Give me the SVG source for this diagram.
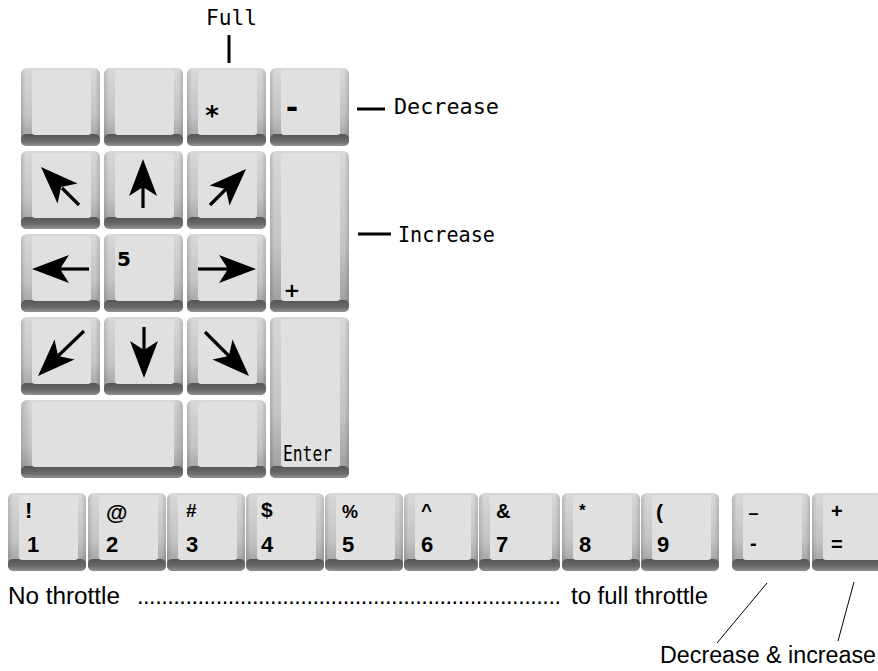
<svg xmlns="http://www.w3.org/2000/svg" width="878" height="671" viewBox="0 0 878 671">
<defs>
<linearGradient id="gSide" x1="0" y1="0" x2="0" y2="1">
<stop offset="0" stop-color="#d8d8d8"/>
<stop offset="0.6" stop-color="#c4c4c4"/>
<stop offset="1" stop-color="#9a9a9a"/>
</linearGradient>
<linearGradient id="gEdge" x1="0" y1="0" x2="1" y2="0">
<stop offset="0" stop-color="#000" stop-opacity="0.14"/>
<stop offset="0.06" stop-color="#000" stop-opacity="0"/>
<stop offset="0.94" stop-color="#000" stop-opacity="0"/>
<stop offset="1" stop-color="#000" stop-opacity="0.14"/>
</linearGradient>
<linearGradient id="gBase" x1="0" y1="0" x2="0" y2="1">
<stop offset="0" stop-color="#555"/>
<stop offset="0.6" stop-color="#6a6a6a"/>
<stop offset="1" stop-color="#929292"/>
</linearGradient>
<style>
.body{fill:url(#gSide)}
.edge{fill:url(#gEdge)}
.base{fill:url(#gBase)}
.face{fill:#e0e0e0}
.arrow{fill:#000}
.shaft{stroke:#000;stroke-width:3.2;fill:none}
.lbl{font-family:"DejaVu Sans Mono",monospace;font-size:21px;fill:#000}
.kb{font-family:"DejaVu Sans",sans-serif;font-weight:bold;fill:#000}
.ks{font-family:"Liberation Sans",Arial,sans-serif;font-weight:bold;fill:#000}
.cap{font-family:"Liberation Sans",Arial,sans-serif;font-size:23.5px;fill:#000}
.ln{stroke:#000;fill:none}
</style>
</defs>

<!-- Numeric keypad -->
<g id="key-numlock"><rect class="body" x="21" y="68" width="79" height="78" rx="6"/><rect class="edge" x="21" y="68" width="79" height="78" rx="6"/><rect class="base" x="21" y="134" width="79" height="12" rx="5"/><rect class="face" x="32" y="70" width="59" height="65" rx="3"/></g>
<g id="key-slash"><rect class="body" x="104" y="68" width="79" height="78" rx="6"/><rect class="edge" x="104" y="68" width="79" height="78" rx="6"/><rect class="base" x="104" y="134" width="79" height="12" rx="5"/><rect class="face" x="115" y="70" width="59" height="65" rx="3"/></g>
<g id="key-star"><rect class="body" x="187" y="68" width="79" height="78" rx="6"/><rect class="edge" x="187" y="68" width="79" height="78" rx="6"/><rect class="base" x="187" y="134" width="79" height="12" rx="5"/><rect class="face" x="198" y="70" width="59" height="65" rx="3"/><text class="kb" x="212" y="125" font-size="26" text-anchor="middle">*</text></g>
<g id="key-minus"><rect class="body" x="270" y="68" width="79" height="78" rx="6"/><rect class="edge" x="270" y="68" width="79" height="78" rx="6"/><rect class="base" x="270" y="134" width="79" height="12" rx="5"/><rect class="face" x="281" y="70" width="59" height="65" rx="3"/><text class="kb" x="292" y="118" font-size="30" text-anchor="middle">-</text></g>

<g id="key-7"><rect class="body" x="21" y="151" width="79" height="78" rx="6"/><rect class="edge" x="21" y="151" width="79" height="78" rx="6"/><rect class="base" x="21" y="217" width="79" height="12" rx="5"/><rect class="face" x="32" y="153" width="59" height="65" rx="3"/>
<path class="arrow" d="M41,167 L77.5,183.5 L61.1,187.1 L57.5,203.5 Z"/><line class="shaft" x1="62" y1="188" x2="79" y2="205"/></g>
<g id="key-8"><rect class="body" x="104" y="151" width="79" height="78" rx="6"/><rect class="edge" x="104" y="151" width="79" height="78" rx="6"/><rect class="base" x="104" y="217" width="79" height="12" rx="5"/><rect class="face" x="115" y="153" width="59" height="65" rx="3"/>
<path class="arrow" d="M143,159 L157,196 L143,187 L129,196 Z"/><line class="shaft" x1="143" y1="186" x2="143" y2="208"/></g>
<g id="key-9"><rect class="body" x="187" y="151" width="79" height="78" rx="6"/><rect class="edge" x="187" y="151" width="79" height="78" rx="6"/><rect class="base" x="187" y="217" width="79" height="12" rx="5"/><rect class="face" x="198" y="153" width="59" height="65" rx="3"/>
<path class="arrow" d="M246,169 L229.5,205.5 L225.9,189.1 L209.5,185.5 Z"/><line class="shaft" x1="227" y1="188" x2="210" y2="205"/></g>
<g id="key-plus"><rect class="body" x="270" y="151" width="79" height="161" rx="6"/><rect class="edge" x="270" y="151" width="79" height="161" rx="6"/><rect class="base" x="270" y="300" width="79" height="12" rx="5"/><rect class="face" x="281" y="153" width="59" height="148" rx="3"/><text class="kb" x="292" y="297" font-size="20" text-anchor="middle">+</text></g>

<g id="key-4"><rect class="body" x="21" y="234" width="79" height="78" rx="6"/><rect class="edge" x="21" y="234" width="79" height="78" rx="6"/><rect class="base" x="21" y="300" width="79" height="12" rx="5"/><rect class="face" x="32" y="236" width="59" height="65" rx="3"/>
<path class="arrow" d="M32,269 L69,255 L60,269 L69,283 Z"/><line class="shaft" x1="59" y1="269" x2="89" y2="269"/></g>
<g id="key-5"><rect class="body" x="104" y="234" width="79" height="78" rx="6"/><rect class="edge" x="104" y="234" width="79" height="78" rx="6"/><rect class="base" x="104" y="300" width="79" height="12" rx="5"/><rect class="face" x="115" y="236" width="59" height="65" rx="3"/><text class="kb" x="117" y="266" font-size="20">5</text></g>
<g id="key-6"><rect class="body" x="187" y="234" width="79" height="78" rx="6"/><rect class="edge" x="187" y="234" width="79" height="78" rx="6"/><rect class="base" x="187" y="300" width="79" height="12" rx="5"/><rect class="face" x="198" y="236" width="59" height="65" rx="3"/>
<path class="arrow" d="M256,269 L219,255 L228,269 L219,283 Z"/><line class="shaft" x1="229" y1="269" x2="198" y2="269"/></g>

<g id="key-1"><rect class="body" x="21" y="317" width="79" height="78" rx="6"/><rect class="edge" x="21" y="317" width="79" height="78" rx="6"/><rect class="base" x="21" y="383" width="79" height="12" rx="5"/><rect class="face" x="32" y="319" width="59" height="65" rx="3"/>
<path class="arrow" d="M38,376 L54.5,339.5 L58.1,355.9 L74.5,359.5 Z"/><line class="shaft" x1="57" y1="357" x2="84" y2="331"/></g>
<g id="key-2"><rect class="body" x="104" y="317" width="79" height="78" rx="6"/><rect class="edge" x="104" y="317" width="79" height="78" rx="6"/><rect class="base" x="104" y="383" width="79" height="12" rx="5"/><rect class="face" x="115" y="319" width="59" height="65" rx="3"/>
<path class="arrow" d="M144,378 L130,341 L144,350 L158,341 Z"/><line class="shaft" x1="144" y1="351" x2="144" y2="327"/></g>
<g id="key-3"><rect class="body" x="187" y="317" width="79" height="78" rx="6"/><rect class="edge" x="187" y="317" width="79" height="78" rx="6"/><rect class="base" x="187" y="383" width="79" height="12" rx="5"/><rect class="face" x="198" y="319" width="59" height="65" rx="3"/>
<path class="arrow" d="M249,376 L212.5,359.5 L228.9,355.9 L232.5,339.5 Z"/><line class="shaft" x1="230" y1="357" x2="205" y2="332"/></g>
<g id="key-enter"><rect class="body" x="270" y="317" width="79" height="161" rx="6"/><rect class="edge" x="270" y="317" width="79" height="161" rx="6"/><rect class="base" x="270" y="466" width="79" height="12" rx="5"/><rect class="face" x="281" y="319" width="59" height="148" rx="3"/><text class="lbl" x="283" y="461" font-size="17" textLength="49" lengthAdjust="spacingAndGlyphs">Enter</text></g>

<g id="key-0"><rect class="body" x="21" y="400" width="162" height="78" rx="6"/><rect class="edge" x="21" y="400" width="162" height="78" rx="6"/><rect class="base" x="21" y="466" width="162" height="12" rx="5"/><rect class="face" x="32" y="402" width="142" height="65" rx="3"/></g>
<g id="key-dot"><rect class="body" x="187" y="400" width="79" height="78" rx="6"/><rect class="edge" x="187" y="400" width="79" height="78" rx="6"/><rect class="base" x="187" y="466" width="79" height="12" rx="5"/><rect class="face" x="198" y="402" width="59" height="65" rx="3"/></g>

<!-- Number row -->
<g id="row-1"><rect class="body" x="8" y="493" width="78" height="78" rx="6"/><rect class="edge" x="8" y="493" width="78" height="78" rx="6"/><rect class="base" x="8" y="559" width="78" height="12" rx="5"/><rect class="face" x="19" y="495" width="59" height="65" rx="3"/><text class="ks" x="25" y="518" font-size="22">!</text><text class="ks" x="27" y="552" font-size="22">1</text></g>
<g id="row-2"><rect class="body" x="88" y="493" width="78" height="78" rx="6"/><rect class="edge" x="88" y="493" width="78" height="78" rx="6"/><rect class="base" x="88" y="559" width="78" height="12" rx="5"/><rect class="face" x="99" y="495" width="59" height="65" rx="3"/><text class="ks" x="106" y="520" font-size="22">@</text><text class="ks" x="106" y="552" font-size="22">2</text></g>
<g id="row-3"><rect class="body" x="167" y="493" width="78" height="78" rx="6"/><rect class="edge" x="167" y="493" width="78" height="78" rx="6"/><rect class="base" x="167" y="559" width="78" height="12" rx="5"/><rect class="face" x="178" y="495" width="59" height="65" rx="3"/><text class="ks" x="186" y="517" font-size="19">#</text><text class="ks" x="186" y="552" font-size="22">3</text></g>
<g id="row-4"><rect class="body" x="246" y="493" width="78" height="78" rx="6"/><rect class="edge" x="246" y="493" width="78" height="78" rx="6"/><rect class="base" x="246" y="559" width="78" height="12" rx="5"/><rect class="face" x="257" y="495" width="59" height="65" rx="3"/><text class="ks" x="261" y="517" font-size="21">$</text><text class="ks" x="261" y="552" font-size="22">4</text></g>
<g id="row-5"><rect class="body" x="325" y="493" width="78" height="78" rx="6"/><rect class="edge" x="325" y="493" width="78" height="78" rx="6"/><rect class="base" x="325" y="559" width="78" height="12" rx="5"/><rect class="face" x="336" y="495" width="59" height="65" rx="3"/><text class="ks" x="342" y="518" font-size="18">%</text><text class="ks" x="342" y="552" font-size="22">5</text></g>
<g id="row-6"><rect class="body" x="404" y="493" width="74" height="78" rx="6"/><rect class="edge" x="404" y="493" width="74" height="78" rx="6"/><rect class="base" x="404" y="559" width="74" height="12" rx="5"/><rect class="face" x="415" y="495" width="56" height="65" rx="3"/><text class="ks" x="421" y="517" font-size="19">^</text><text class="ks" x="421" y="552" font-size="22">6</text></g>
<g id="row-7"><rect class="body" x="479" y="493" width="81" height="78" rx="6"/><rect class="edge" x="479" y="493" width="81" height="78" rx="6"/><rect class="base" x="479" y="559" width="81" height="12" rx="5"/><rect class="face" x="490" y="495" width="62" height="65" rx="3"/><text class="ks" x="496" y="518" font-size="20">&amp;</text><text class="ks" x="496" y="552" font-size="22">7</text></g>
<g id="row-8"><rect class="body" x="562" y="493" width="78" height="78" rx="6"/><rect class="edge" x="562" y="493" width="78" height="78" rx="6"/><rect class="base" x="562" y="559" width="78" height="12" rx="5"/><rect class="face" x="573" y="495" width="59" height="65" rx="3"/><text class="ks" x="579" y="516" font-size="17">*</text><text class="ks" x="579" y="552" font-size="22">8</text></g>
<g id="row-9"><rect class="body" x="641" y="493" width="78" height="78" rx="6"/><rect class="edge" x="641" y="493" width="78" height="78" rx="6"/><rect class="base" x="641" y="559" width="78" height="12" rx="5"/><rect class="face" x="652" y="495" width="59" height="65" rx="3"/><text class="ks" x="656" y="519" font-size="21">(</text><text class="ks" x="657" y="552" font-size="22">9</text></g>
<g id="row-minus"><rect class="body" x="732" y="493" width="78" height="78" rx="6"/><rect class="edge" x="732" y="493" width="78" height="78" rx="6"/><rect class="base" x="732" y="559" width="78" height="12" rx="5"/><rect class="face" x="743" y="495" width="59" height="65" rx="3"/><text class="kb" x="749" y="511" font-size="18">_</text><text class="ks" x="750" y="550" font-size="20">-</text></g>
<g id="row-equals"><rect class="body" x="812" y="493" width="78" height="78" rx="6"/><rect class="edge" x="812" y="493" width="78" height="78" rx="6"/><rect class="base" x="812" y="559" width="78" height="12" rx="5"/><rect class="face" x="823" y="495" width="59" height="65" rx="3"/><text class="ks" x="831" y="518" font-size="20">+</text><text class="ks" x="831" y="551" font-size="20">=</text></g>

<!-- Annotations -->
<g id="connectors">
<line class="ln" x1="229" y1="35" x2="229" y2="63" stroke-width="3"/>
<line class="ln" x1="357" y1="109" x2="385" y2="109" stroke-width="3"/>
<line class="ln" x1="358" y1="234" x2="391" y2="234" stroke-width="3"/>
<line class="ln" x1="767" y1="583" x2="717" y2="643" stroke-width="1"/>
<line class="ln" x1="854" y1="582" x2="838" y2="641" stroke-width="1"/>
</g>
<g id="labels">
<text class="lbl" x="206" y="25" textLength="51" lengthAdjust="spacingAndGlyphs">Full</text>
<text class="lbl" x="394" y="114" textLength="105" lengthAdjust="spacingAndGlyphs">Decrease</text>
<text class="lbl" x="398" y="242" textLength="97" lengthAdjust="spacingAndGlyphs">Increase</text>
<text class="cap" x="8" y="604" textLength="112" lengthAdjust="spacingAndGlyphs">No throttle</text>
<text class="cap" x="137" y="604" textLength="424" lengthAdjust="spacing">......................................................................</text>
<text class="cap" x="571" y="604" textLength="137" lengthAdjust="spacingAndGlyphs">to full throttle</text>
<text class="cap" x="660" y="663" textLength="216" lengthAdjust="spacingAndGlyphs">Decrease &amp; increase</text>
</g>
</svg>
